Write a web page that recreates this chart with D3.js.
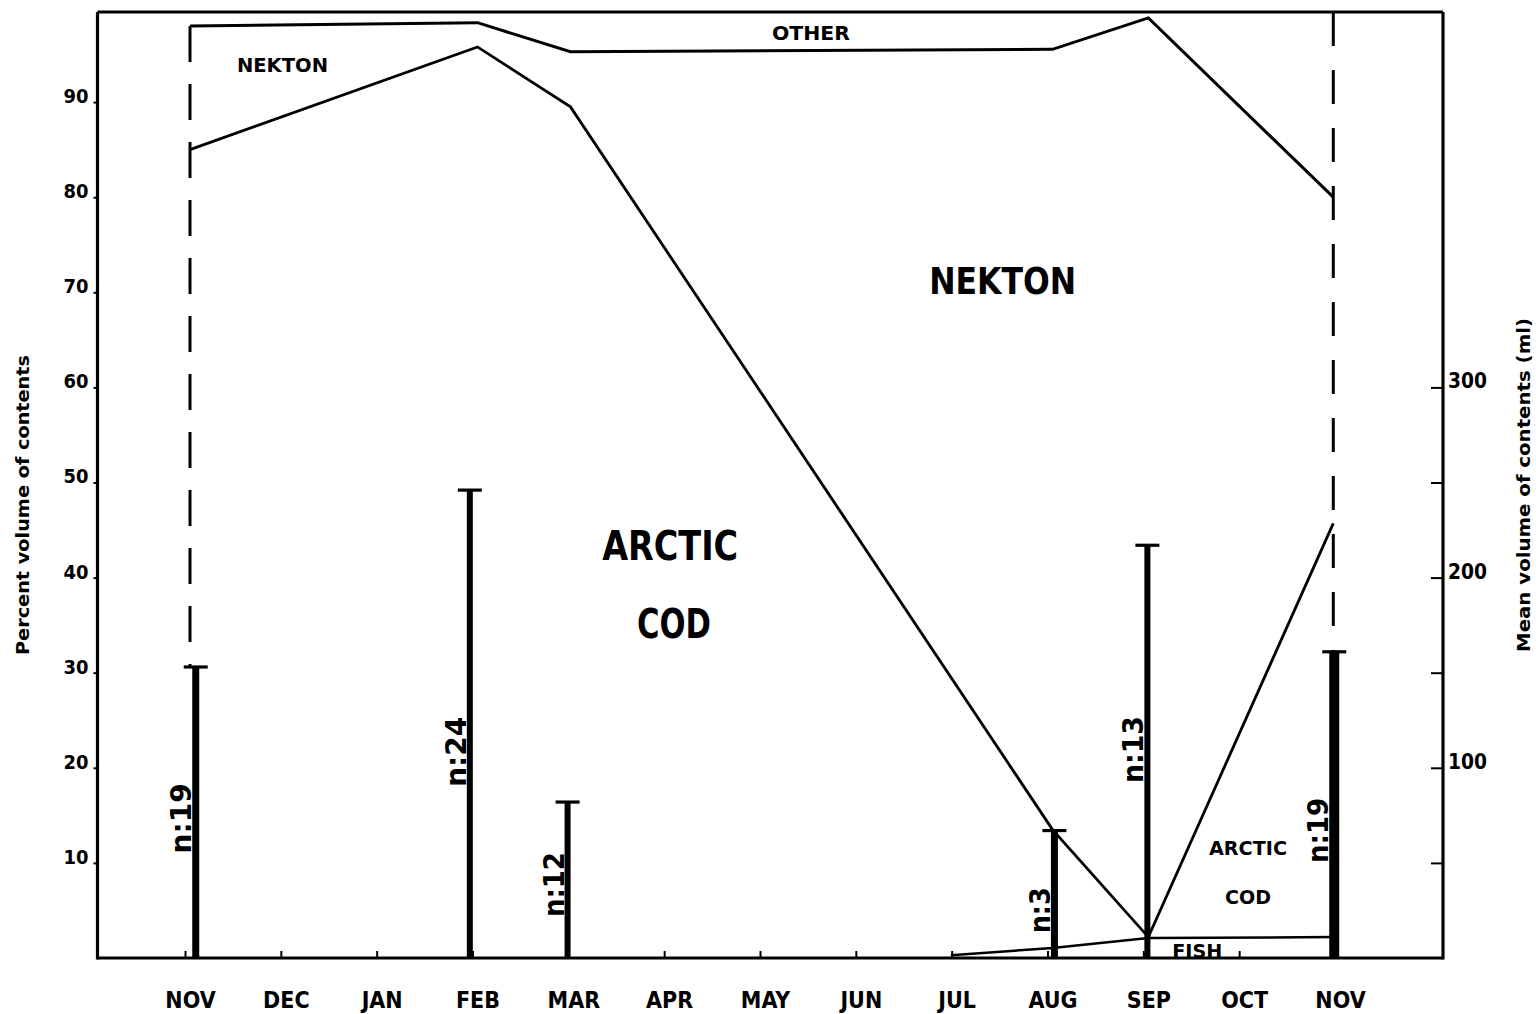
<!DOCTYPE html>
<html><head><meta charset="utf-8">
<script src="https://cdn.jsdelivr.net/npm/d3@7"></script>
<style>html,body{margin:0;background:#fff}svg{display:block}</style>
</head><body>
<svg id="c" width="1536" height="1014"></svg>
<script>
// ---------------- DATA ----------------
const months = ["NOV","DEC","JAN","FEB","MAR","APR","MAY","JUN","JUL","AUG","SEP","OCT","NOV"];
const percentTicks = [10,20,30,40,50,60,70,80,90];
const mlTicks = [50,100,150,200,250,300];
const mlTickLabels = [100,200,300];

// samples (month index from NOV = 0)
const sampleMonth = [0.06, 2.92, 3.94, 9.02, 9.99, 11.94];
const meanVolumeMl = [153, 246, 82, 67, 217, 161];
const sampleN = ["n:19","n:24","n:12","n:3","n:13","n:19"];
const nLabelPct = [11.0, 18.0, 4.3, 2.6, 18.4, 10.0];

// cumulative percent composition boundaries
const lineMonth = [0, 3.0, 3.97, 9.0, 10.0, 11.93];
const otherBoundary = [98.0, 98.35, 95.3, 95.55, 98.85, 80.0];
const nektonBoundary = [85.0, 95.8, 89.5, 13.5, 2.2, 45.7];
const fishMonth = [7.94, 9.0, 10.0, 11.93];
const fishBoundary = [0.3, 1.05, 2.1, 2.2];

// region annotations (data coordinates)
const regionText = ["OTHER","NEKTON","NEKTON","ARCTIC","COD","ARCTIC","COD","FISH"];
const regionMonth = [6.48, 0.965, 8.48, 5.01, 5.05, 11.04, 11.04, 10.51];
const regionPct = [96.5, 93.2, 69.8, 41.85, 33.65, 10.83, 5.68, 0.0];

// ---------------- STYLE ----------------
const regionSize = [19, 20, 37, 40, 40, 20, 20, 20];
const regionLen = [78, 91, 147, 136, 74, 78, 46, 50];
const barWidth = [7, 6, 6, 7, 6, 10];
const nLabelLen = [70, 70, 65, 46, 67, 65];
const condensed = "'Liberation Sans Narrow','DejaVu Sans Condensed','Arial Narrow',sans-serif";
const heavyCond = "'DejaVu Sans Condensed','Liberation Sans Narrow',sans-serif";

// ---------------- SCALES ----------------
const svg = d3.select("#c");
const plotLeft = 97.5, plotRight = 1443, plotTop = 12;
const x = d3.scaleLinear().domain([0, 12]).range([190, 1340]);
const y = d3.scaleLinear().domain([0, 90]).range([958, 102.1]);
const yMl = d3.scaleLinear().domain([0, 450]).range([958, 102.1]);
const plotBottom = y(0);

const line = d3.line().x(d => x(d[0])).y(d => y(d[1]));

// composition lines
svg.append("path")
  .attr("d", line(lineMonth.map((m, i) => [m, otherBoundary[i]])))
  .attr("fill", "none").attr("stroke", "#000").attr("stroke-width", 3).attr("stroke-linejoin", "miter");
svg.append("path")
  .attr("d", line(lineMonth.map((m, i) => [m, nektonBoundary[i]])))
  .attr("fill", "none").attr("stroke", "#000").attr("stroke-width", 2.8).attr("stroke-linejoin", "miter");
svg.append("path")
  .attr("d", line(fishMonth.map((m, i) => [m, fishBoundary[i]])))
  .attr("fill", "none").attr("stroke", "#000").attr("stroke-width", 2.5);

// dashed verticals at the two NOV samples
svg.append("line")
  .attr("x1", x(lineMonth[0])).attr("x2", x(lineMonth[0]))
  .attr("y1", y(otherBoundary[0])).attr("y2", yMl(meanVolumeMl[0]))
  .attr("stroke", "#000").attr("stroke-width", 3).attr("stroke-dasharray", "36,22");
svg.append("line")
  .attr("x1", x(lineMonth[5])).attr("x2", x(lineMonth[5]))
  .attr("y1", plotTop).attr("y2", yMl(meanVolumeMl[5]))
  .attr("stroke", "#000").attr("stroke-width", 3).attr("stroke-dasharray", "34,24");

// bars (mean volume)
const bars = svg.append("g");
sampleMonth.forEach((m, i) => {
  const bx = x(m), by = yMl(meanVolumeMl[i]);
  bars.append("line").attr("x1", bx).attr("x2", bx).attr("y1", by).attr("y2", plotBottom)
    .attr("stroke", "#000").attr("stroke-width", barWidth[i]);
  bars.append("line").attr("x1", bx - 12).attr("x2", bx + 12).attr("y1", by).attr("y2", by)
    .attr("stroke", "#000").attr("stroke-width", 3.2);
  bars.append("text")
    .attr("transform", `translate(${bx - barWidth[i] / 2 - 1},${y(nLabelPct[i])}) rotate(-90)`)
    .attr("font-family", heavyCond).attr("font-weight", "bold").attr("font-size", 29)
    .attr("textLength", nLabelLen[i]).attr("lengthAdjust", "spacingAndGlyphs")
    .text(sampleN[i]);
});

// region annotations
regionText.forEach((t, i) => {
  svg.append("text")
    .attr("x", x(regionMonth[i])).attr("y", y(regionPct[i]))
    .attr("text-anchor", "middle")
    .attr("font-family", regionSize[i] > 30 ? heavyCond : condensed)
    .attr("font-weight", "bold").attr("font-size", regionSize[i])
    .attr("textLength", regionLen[i]).attr("lengthAdjust", "spacingAndGlyphs")
    .text(t);
});

// ---------------- AXES / FRAME ----------------
const frame = svg.append("g").attr("stroke", "#000").attr("stroke-width", 3.2).attr("fill", "none");
frame.append("line").attr("x1", plotLeft).attr("x2", plotRight).attr("y1", plotTop).attr("y2", plotTop);
frame.append("line").attr("x1", plotLeft).attr("x2", plotLeft).attr("y1", plotTop).attr("y2", plotBottom + 1.5);
frame.append("line").attr("x1", plotRight).attr("x2", plotRight).attr("y1", plotTop).attr("y2", plotBottom + 1.5);
frame.append("line").attr("x1", plotLeft).attr("x2", plotRight).attr("y1", plotBottom).attr("y2", plotBottom);

// left axis ticks + labels
const yAxis = svg.append("g").attr("transform", `translate(${plotLeft},0)`)
  .call(d3.axisLeft(y).tickValues(percentTicks).tickSize(4).tickPadding(5).tickFormat(d3.format("d")));
yAxis.select(".domain").remove();
yAxis.selectAll("line").attr("stroke", "#000").attr("stroke-width", 2);
yAxis.selectAll("text").attr("font-family", "'DejaVu Sans',sans-serif")
  .attr("font-weight", "bold").attr("font-size", 20).attr("dy", "0.02em")
  .attr("textLength", 25).attr("lengthAdjust", "spacingAndGlyphs");

// right axis (ml)
const yAxisR = svg.append("g").attr("transform", `translate(${plotRight},0)`)
  .call(d3.axisRight(yMl).tickValues(mlTicks).tickSize(-12).tickPadding(0)
    .tickFormat(d => mlTickLabels.includes(d) ? d : ""));
yAxisR.select(".domain").remove();
yAxisR.selectAll("line").attr("stroke", "#000").attr("stroke-width", 2);
yAxisR.selectAll("text").attr("x", 5).attr("dy", "0.02em").attr("font-family", "'DejaVu Sans',sans-serif")
  .attr("font-weight", "bold").attr("font-size", 21)
  .filter(function () { return this.textContent !== ""; })
  .attr("textLength", 39).attr("lengthAdjust", "spacingAndGlyphs");

// bottom month axis
const xAxis = svg.append("g").attr("transform", `translate(0,${plotBottom})`)
  .call(d3.axisBottom(x).tickValues(d3.range(months.length)).tickSize(-7).tickPadding(0)
    .tickFormat(i => months[i]));
xAxis.select(".domain").remove();
xAxis.selectAll("line").attr("stroke", "#000").attr("stroke-width", 2).attr("transform", "translate(-5,0)");
xAxis.selectAll("text").attr("y", 50).attr("dy", 0)
  .attr("font-family", condensed).attr("font-weight", "bold").attr("font-size", 23);

// axis titles
svg.append("text")
  .attr("transform", `translate(29,505) rotate(-90)`)
  .attr("text-anchor", "middle").attr("font-family", condensed).attr("font-weight", "bold")
  .attr("font-size", 18).attr("textLength", 300).attr("lengthAdjust", "spacingAndGlyphs")
  .text("Percent volume of contents");
svg.append("text")
  .attr("transform", `translate(1530,485) rotate(-90)`)
  .attr("text-anchor", "middle").attr("font-family", condensed).attr("font-weight", "bold")
  .attr("font-size", 18).attr("textLength", 334).attr("lengthAdjust", "spacingAndGlyphs")
  .text("Mean volume of contents (ml)");
</script>
</body></html>
